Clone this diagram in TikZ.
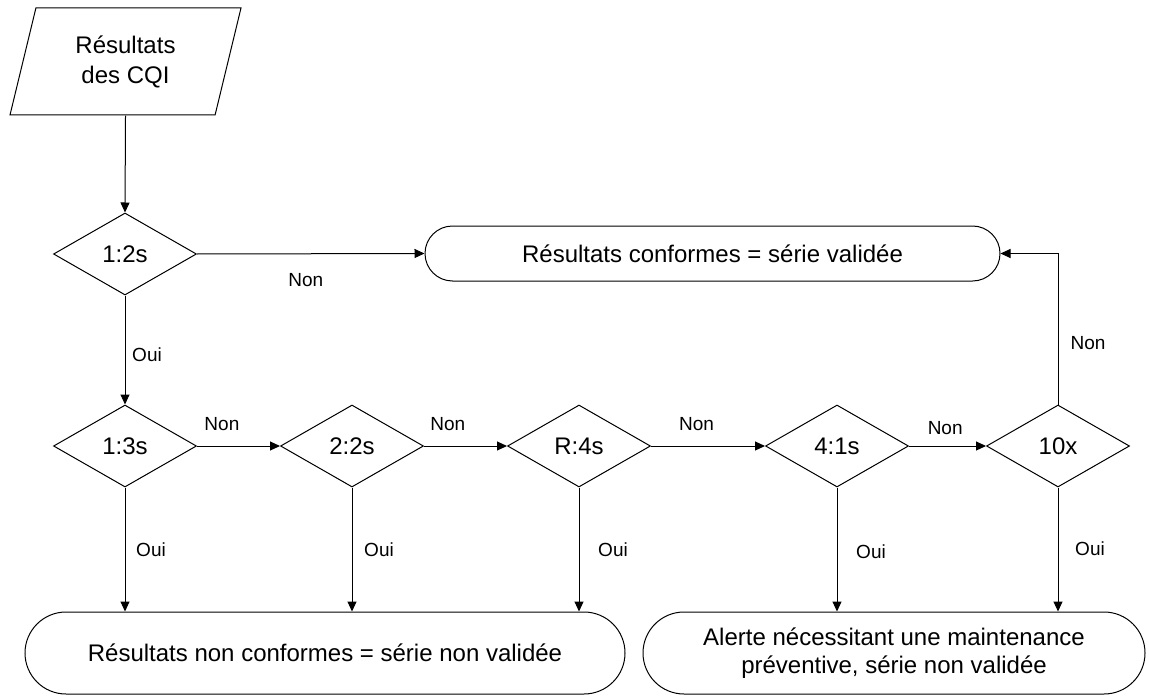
\documentclass[tikz,border=0pt]{standalone}
\usepackage{fontspec}
\setmainfont{Liberation Sans}
\usetikzlibrary{shapes.geometric,shapes.misc,arrows.meta}
\begin{document}
\begin{tikzpicture}[x=0.5pt,y=-0.5pt,
  font=\fontsize{12}{14}\selectfont,
  line width=0.5pt,
  test/.style={draw, diamond, minimum width=71.5pt, minimum height=41pt, inner sep=0pt},
  outcome/.style={draw, rounded rectangle, inner sep=0pt, align=center},
  datain/.style={draw, trapezium, trapezium left angle=63.6, trapezium right angle=116.4,
    trapezium stretches body, minimum width=115.5pt, minimum height=53.5pt,
    inner sep=0pt, align=center, font=\fontsize{12}{15}\selectfont},
  flow/.style={-{Triangle[length=5pt,width=4.5pt]}},
  tag/.style={font=\fontsize{9.5}{11}\selectfont, inner sep=0pt}
]
\useasboundingbox (0,0) rectangle (1149,695);

% input data
\node[datain] (in) at (125.5,61.5) {Résultats\\des CQI};

% Westgard rules
\node[test] (q1) at (125,254) {1:2s};
\node[test] (q2) at (125,446) {1:3s};
\node[test] (q3) at (352,446) {2:2s};
\node[test] (q4) at (579,446) {R:4s};
\node[test] (q5) at (837,446) {4:1s};
\node[test] (q6) at (1058,446) {10x};

% outcomes
\node[outcome, minimum width=287.5pt, minimum height=27.5pt] (ok) at (712.5,253.5)
  {Résultats conformes = série validée};
\node[outcome, minimum width=300pt, minimum height=41pt] (bad) at (325,653)
  {Résultats non conformes = série non validée};
\node[outcome, minimum width=251pt, minimum height=41pt] (alert) at (894,653)
  {Alerte nécessitant une maintenance\\préventive, série non validée};

% connectors
\draw[flow] (in.south) -- (q1.north);
\draw[flow] (q1.east) -- node[tag, pos=0.478, yshift=-13pt] {Non} (ok.west);
\draw[flow] (q1.south) -- node[tag, pos=0.545, xshift=11pt] {Oui} (q2.north);

\draw[flow] (q2.east) -- node[tag, pos=0.30, yshift=11pt] {Non} (q3.west);
\draw[flow] (q3.east) -- node[tag, pos=0.286, yshift=11pt] {Non} (q4.west);
\draw[flow] (q4.east) -- node[tag, pos=0.40, yshift=11pt] {Non} (q5.west);
\draw[flow] (q5.east) -- node[tag, pos=0.47, yshift=9pt] {Non} (q6.west);
\draw[flow] (q6.north) |- node[tag, pos=0.205, xshift=15pt] {Non} (ok.east);

\draw[flow] (q2.south) -- node[tag, pos=0.5, xshift=13pt] {Oui} (q2.south |- bad.north);
\draw[flow] (q3.south) -- node[tag, pos=0.5, xshift=13.5pt] {Oui} (q3.south |- bad.north);
\draw[flow] (q4.south) -- node[tag, pos=0.5, xshift=17pt] {Oui} (q4.south |- bad.north);
\draw[flow] (q5.south) -- node[tag, pos=0.52, xshift=17pt] {Oui} (q5.south |- alert.north);
\draw[flow] (q6.south) -- node[tag, pos=0.49, xshift=16pt] {Oui} (q6.south |- alert.north);
\end{tikzpicture}
\end{document}
